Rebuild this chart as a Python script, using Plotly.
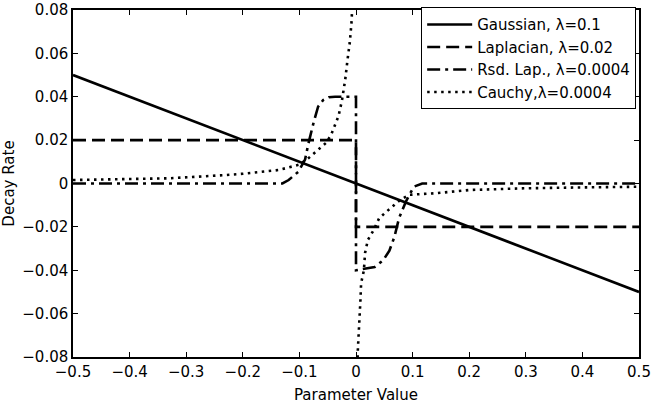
import plotly.graph_objects as go

# Gaussian, lambda=0.1
gauss_x = [-0.5, 0.5]
gauss_y = [0.05, -0.05]

# Laplacian, lambda=0.02
lap_x = [-0.5, 0.0, 0.0, 0.5]
lap_y = [0.02, 0.02, -0.02, -0.02]

# Residual Laplacian, lambda=0.0004
rsd_x = [-0.5, -0.13, -0.119, -0.102, -0.09, -0.084, -0.075, -0.067, -0.058, -0.048, -0.037, -0.02, 0.0,
         0.0, 0.021, 0.033, 0.048, 0.059, 0.068, 0.076, 0.088, 0.102, 0.117, 0.5]
rsd_y = [0.0, 0.0, 0.0016, 0.0054, 0.011, 0.0185, 0.028, 0.0354, 0.0385, 0.0398, 0.040, 0.040, 0.040,
         -0.040, -0.039, -0.0385, -0.0354, -0.031, -0.0245, -0.016, -0.0084, -0.0015, 0.0, 0.0]

# Cauchy, lambda=0.0004
cau_x = [-0.5, -0.4, -0.33, -0.23, -0.2, -0.137, -0.12, -0.1, -0.084, -0.067, -0.053, -0.044,
         -0.031, -0.025, -0.019, -0.015, -0.011, -0.008, -0.0065, -0.005,
         None,
         0.0025, 0.003, 0.005, 0.0065, 0.008, 0.009, 0.014, 0.016, 0.021, 0.03, 0.041, 0.056,
         0.077, 0.094, 0.14, 0.2, 0.3, 0.4, 0.5]
cau_y = [0.0016, 0.002, 0.0024, 0.0039, 0.0045, 0.0062, 0.0072, 0.0087, 0.0117, 0.0155, 0.0187, 0.0224,
         0.031, 0.038, 0.048, 0.057, 0.065, 0.074, 0.08, 0.09,
         None,
         -0.09, -0.078, -0.068, -0.062, -0.053, -0.046, -0.04, -0.032, -0.026, -0.022, -0.016, -0.0125,
         -0.0078, -0.0052, -0.0045, -0.003, -0.0022, -0.0018, -0.0015]

x_ticks = [-0.5, -0.4, -0.3, -0.2, -0.1, 0.0, 0.1, 0.2, 0.3, 0.4, 0.5]
x_tick_labels = ["\u22120.5", "\u22120.4", "\u22120.3", "\u22120.2", "\u22120.1", "0",
                 "0.1", "0.2", "0.3", "0.4", "0.5"]
y_ticks = [-0.08, -0.06, -0.04, -0.02, 0.0, 0.02, 0.04, 0.06, 0.08]
y_tick_labels = ["\u22120.08", "\u22120.06", "\u22120.04", "\u22120.02", "0",
                 "0.02", "0.04", "0.06", "0.08"]

names = ["Gaussian, \u03bb=0.1", "Laplacian, \u03bb=0.02",
         "Rsd. Lap., \u03bb=0.0004", "Cauchy,\u03bb=0.0004"]

FONT = "DejaVu Sans"

fig = go.Figure()
fig.add_trace(go.Scatter(x=gauss_x, y=gauss_y, mode="lines", name=names[0],
                         line=dict(color="black", width=2.6)))
fig.add_trace(go.Scatter(x=lap_x, y=lap_y, mode="lines", name=names[1],
                         line=dict(color="black", width=2.6, dash="13px,6px")))
fig.add_trace(go.Scatter(x=rsd_x, y=rsd_y, mode="lines", name=names[2],
                         line=dict(color="black", width=2.6, dash="13px,5px,3px,5px")))
fig.add_trace(go.Scatter(x=cau_x, y=cau_y, mode="lines", name=names[3], connectgaps=False,
                         line=dict(color="black", width=2.6, dash="2.5px,4.5px")))

axis_common = dict(
    showline=True, linecolor="black", linewidth=1.5, mirror="ticks",
    ticks="inside", ticklen=5, tickwidth=1, tickcolor="black",
    showgrid=False, zeroline=False, ticklabeloverflow="allow", automargin=False,
    tickfont=dict(family=FONT, size=15, color="black"),
)

fig.update_layout(
    width=652, height=407,
    margin=dict(l=73, r=13, t=10, b=50, autoexpand=False),
    paper_bgcolor="white", plot_bgcolor="white",
    font=dict(family=FONT, size=15, color="black"),
    xaxis=dict(range=[-0.5, 0.5], tickvals=x_ticks, ticktext=x_tick_labels,
               title=dict(text="Parameter Value", font=dict(family=FONT, size=15), standoff=10),
               **axis_common),
    yaxis=dict(range=[-0.08, 0.08], tickvals=y_ticks, ticktext=y_tick_labels,
               title=dict(text="Decay Rate", font=dict(family=FONT, size=15), standoff=8),
               **axis_common),
    legend=dict(x=0.995, y=1.008, xanchor="right", yanchor="top",
                bgcolor="white", bordercolor="black", borderwidth=1,
                font=dict(family=FONT, size=15, color="black"),
                tracegroupgap=0, itemwidth=45),
    showlegend=True,
)

fig.write_html("out.html")
